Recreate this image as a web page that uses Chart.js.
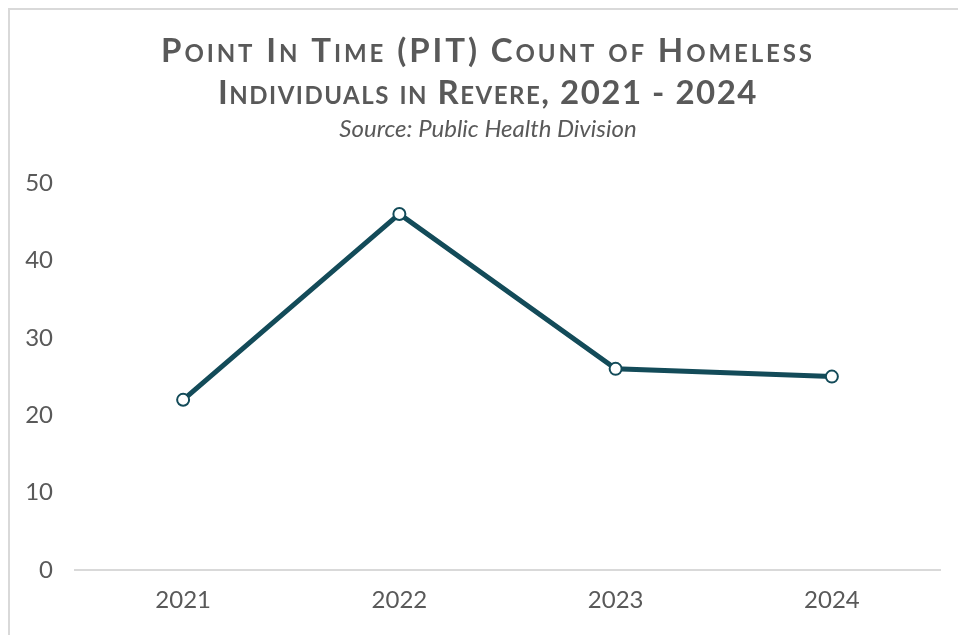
<!DOCTYPE html>
<html>
<head>
<meta charset="utf-8">
<script src="https://cdn.jsdelivr.net/npm/chart.js@4"></script>
<style>
  html, body { margin: 0; padding: 0; background: #fff; overflow: hidden; }
  #frame { position: absolute; left: 8px; top: 8px; width: 960px; height: 640px;
           border-left: 2px solid #d9d9d9; border-top: 2px solid #d9d9d9; }
  #wrap { position: absolute; left: 0; top: 0; width: 958px; height: 635px; }
</style>
</head>
<body>
<div id="frame"></div>
<div id="wrap"><canvas id="pit-line"></canvas></div>
<script>
// PIT counts
var years = ['2021', '2022', '2023', '2024'];
var counts = [22, 46, 26, 25];
var titleLines = ['Point In Time (PIT) Count of Homeless', 'Individuals in Revere, 2021 - 2024'];
var subtitleText = 'Source: Public Health Division';

var lineColor = '#134b59';
var textGray = '#595959';

// title in small caps (capitals full size, lower case as smaller capitals) plus italic source line
var headingPlugin = {
  id: 'heading',
  afterDraw: function(chart, args, opts) {
    var c = chart.ctx;
    var fontBig = 'bold ' + opts.size + 'px Lato', fontSmall = 'bold ' + opts.smallSize + 'px Lato';
    c.save();
    c.fillStyle = opts.color;
    c.textBaseline = 'alphabetic';
    c.textAlign = 'left';
    opts.lines.forEach(function(line, i) {
      c.letterSpacing = opts.spacing[i] + 'px';
      var runs = [];
      for (var k = 0; k < line.length; k++) {
        var ch = line[k];
        var isSmall = ch !== ch.toUpperCase();
        var last = runs[runs.length - 1];
        if (last && last.small === isSmall) last.text += ch.toUpperCase();
        else runs.push({ small: isSmall, text: ch.toUpperCase() });
      }
      var total = 0;
      runs.forEach(function(r) {
        c.font = r.small ? fontSmall : fontBig;
        r.w = c.measureText(r.text).width;
        total += r.w;
      });
      var x = opts.centerX - total / 2;
      runs.forEach(function(r) {
        c.font = r.small ? fontSmall : fontBig;
        c.fillText(r.text, x, opts.baselines[i]);
        x += r.w;
      });
    });
    c.letterSpacing = '0px';
    c.textAlign = 'center';
    c.font = 'italic ' + opts.subSize + 'px Lato';
    c.fillText(opts.subtitle, opts.centerX, opts.subBaseline);
    c.restore();
  }
};

var ctx = document.getElementById('pit-line');
var myChart = new Chart(ctx, {
  type: 'line',
  data: {
    labels: years,
    datasets: [{
      label: 'PIT Count',
      data: counts,
      borderColor: lineColor,
      borderWidth: 5,
      pointRadius: 6,
      pointBorderWidth: 2,
      pointBackgroundColor: '#ffffff',
      pointBorderColor: lineColor,
      tension: 0
    }]
  },
  plugins: [headingPlugin],
  options: {
    responsive: true,
    maintainAspectRatio: false,
    animation: false,
    layout: { padding: { left: 21, right: 18, top: 183, bottom: 12 } },
    plugins: {
      legend: { display: false },
      tooltip: { enabled: false },
      title: { display: false },
      heading: {
        lines: titleLines,
        subtitle: subtitleText,
        size: 33,
        smallSize: 24,
        subSize: 24,
        spacing: [2.9, 1.5],
        color: textGray,
        centerX: 488,
        baselines: [62, 104],
        subBaseline: 137
      }
    },
    scales: {
      x: {
        offset: true,
        grid: { display: false },
        border: { display: true, color: '#d9d9d9', width: 2 },
        ticks: { color: textGray, font: { family: 'Lato', size: 24 }, padding: 8 }
      },
      y: {
        min: 0,
        max: 50,
        afterFit: function(scale) { scale.width = 54; },
        grid: { display: false, drawTicks: false },
        border: { display: false },
        ticks: { stepSize: 10, color: textGray, font: { family: 'Lato', size: 24 }, padding: 22 }
      }
    }
  }
});
</script>
</body>
</html>
